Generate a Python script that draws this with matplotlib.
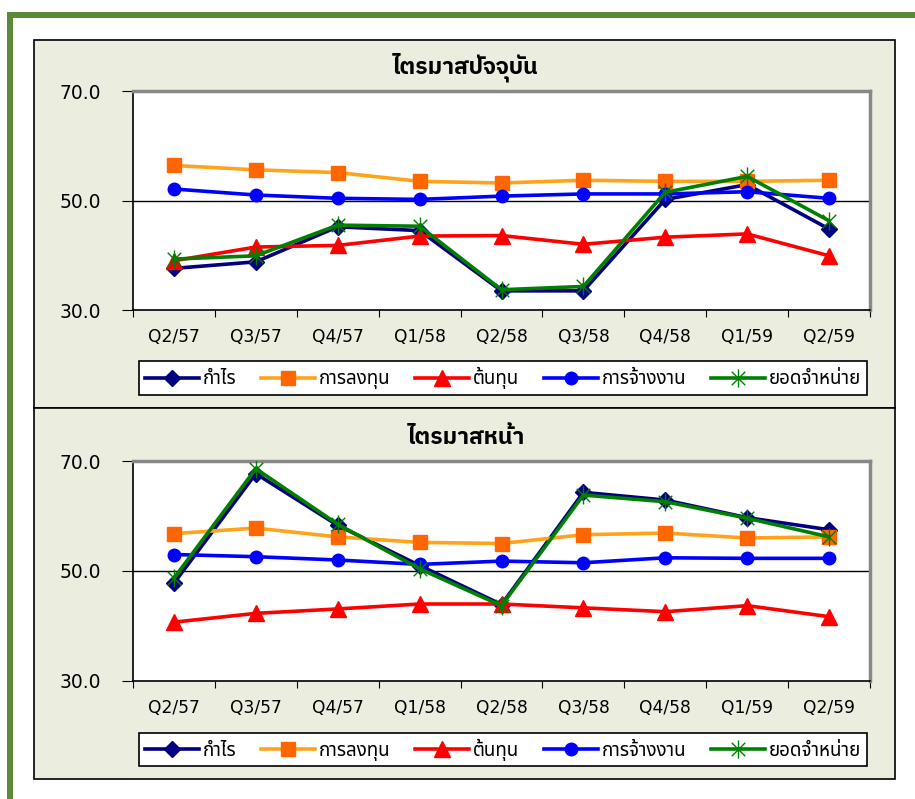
import matplotlib
matplotlib.use("Agg")
import matplotlib.pyplot as plt
from matplotlib.patches import Rectangle
from matplotlib.path import Path

thai = "Noto Sans Thai"
thai_bold = "IBM Plex Sans Thai"

quarters = ["Q2/57", "Q3/57", "Q4/57", "Q1/58", "Q2/58", "Q3/58", "Q4/58", "Q1/59", "Q2/59"]
names = ["กำไร", "การลงทุน", "ต้นทุน", "การจ้างงาน", "ยอดจำหน่าย"]

# ไตรมาสปัจจุบัน
cur_profit = [37.6, 38.8, 45.2, 44.5, 33.5, 33.5, 50.2, 52.9, 44.8]
cur_invest = [56.4, 55.6, 55.1, 53.5, 53.2, 53.7, 53.5, 53.5, 53.7]
cur_cost = [39.0, 41.5, 41.8, 43.5, 43.6, 42.0, 43.3, 43.9, 39.9]
cur_employ = [52.1, 51.0, 50.4, 50.2, 50.8, 51.2, 51.2, 51.6, 50.4]
cur_sales = [39.3, 39.9, 45.5, 45.3, 33.7, 34.3, 51.5, 54.4, 46.3]

# ไตรมาสหน้า
nxt_profit = [47.8, 67.7, 58.3, 51.0, 43.9, 64.3, 62.9, 59.7, 57.5]
nxt_invest = [56.8, 57.8, 56.2, 55.2, 55.0, 56.6, 56.9, 56.0, 56.2]
nxt_cost = [40.7, 42.3, 43.1, 44.0, 44.0, 43.3, 42.6, 43.7, 41.7]
nxt_employ = [53.0, 52.6, 52.0, 51.2, 51.8, 51.5, 52.4, 52.3, 52.3]
nxt_sales = [48.7, 68.6, 58.5, 50.4, 43.7, 63.8, 62.6, 59.6, 56.2]

# excel style star: vertical bar plus an X
star = Path([(0, -1), (0, 1), (-0.75, -0.75), (0.75, 0.75), (-0.75, 0.75), (0.75, -0.75)],
            [Path.MOVETO, Path.LINETO] * 3)

styles = [
    dict(color="#000080", marker="D", ms=8.5, mfc="#000080", mec="#000080"),
    dict(color="#FFA31A", marker="s", ms=10, mfc="#FF6600", mec="#FF6600"),
    dict(color="#FF0000", marker="^", ms=11, mfc="#FF0000", mec="#FF0000"),
    dict(color="#0000FF", marker="o", ms=9, mfc="#0000FF", mec="#0000FF"),
    dict(color="#008000", marker=star, ms=13, mfc="none", mec="#008000", mew=1.0),
]

panel_bg = "#EBEEDF"
fig = plt.figure(figsize=(9.15, 7.99), dpi=100)

# green frame (top and left only)
fig.add_artist(Rectangle((7/915, 0), 6/915, 1 - 12/799, transform=fig.transFigure,
                         facecolor="#5B8A3A", edgecolor="none", zorder=-2))
fig.add_artist(Rectangle((7/915, 1 - 18/799), 1, 6/799, transform=fig.transFigure,
                         facecolor="#5B8A3A", edgecolor="none", zorder=-2))

def panel(top_px, bot_px, title, series, axes_top, axes_bot, leg_top, leg_bot):
    fig.add_artist(Rectangle((34/915, 1 - bot_px/799), 861/915, (bot_px - top_px)/799,
                             transform=fig.transFigure, facecolor=panel_bg,
                             edgecolor="black", lw=1.2, zorder=-1))
    ax = fig.add_axes([133/915, 1 - axes_bot/799, 737/915, (axes_bot - axes_top)/799])
    x = list(range(len(quarters)))
    handles = []
    for vals, st, nm in zip(series, styles, names):
        h, = ax.plot(x, vals, lw=2.6, label=nm, zorder=3, **st)
        handles.append(h)
    ax.set_xlim(-0.5, len(quarters) - 0.5)
    ax.set_ylim(30, 70)
    ax.set_yticks([30, 50, 70])
    ax.set_yticklabels(["30.0", "50.0", "70.0"], fontsize=13.5)
    ax.axhline(50, color="black", lw=1, zorder=1)
    ax.set_xticks([i - 0.5 for i in range(len(quarters) + 1)])
    ax.set_xticklabels([""] * (len(quarters) + 1))
    ax.set_xticks(x, minor=True)
    ax.set_xticklabels(quarters, minor=True, fontsize=12.3)
    ax.tick_params(axis="x", which="minor", length=0, pad=13)
    ax.tick_params(axis="x", which="major", length=5, direction="out")
    ax.tick_params(axis="y", length=8, direction="out", pad=15)
    for s in ["left", "bottom"]:
        ax.spines[s].set_color("black")
        ax.spines[s].set_linewidth(1.2)
    for s in ["top", "right"]:
        ax.spines[s].set_color("#888888")
        ax.spines[s].set_linewidth(2.5)
    fig.text(466/915, 1 - (axes_top - 24)/799, title, ha="center", va="center",
             fontsize=16.5, fontweight="bold", family=[thai_bold, thai, "DejaVu Sans"])
    leg = fig.legend(handles=handles, loc="center",
                     bbox_to_anchor=(503/915, 1 - (leg_top + leg_bot)/2/799),
                     ncol=5, frameon=True, fancybox=False, edgecolor="black",
                     facecolor="white", framealpha=1,
                     prop={"family": [thai, "DejaVu Sans"], "size": 13.5},
                     handlelength=2.9, handletextpad=0.2, columnspacing=1.3,
                     borderpad=0.3)
    leg.get_frame().set_linewidth(1.2)
    return ax

panel(40, 408, "ไตรมาสปัจจุบัน",
      [cur_profit, cur_invest, cur_cost, cur_employ, cur_sales], 91, 310, 358, 398)
panel(408, 779, "ไตรมาสหน้า",
      [nxt_profit, nxt_invest, nxt_cost, nxt_employ, nxt_sales], 461, 681, 729, 770)

fig.savefig("out.png", dpi=100)
